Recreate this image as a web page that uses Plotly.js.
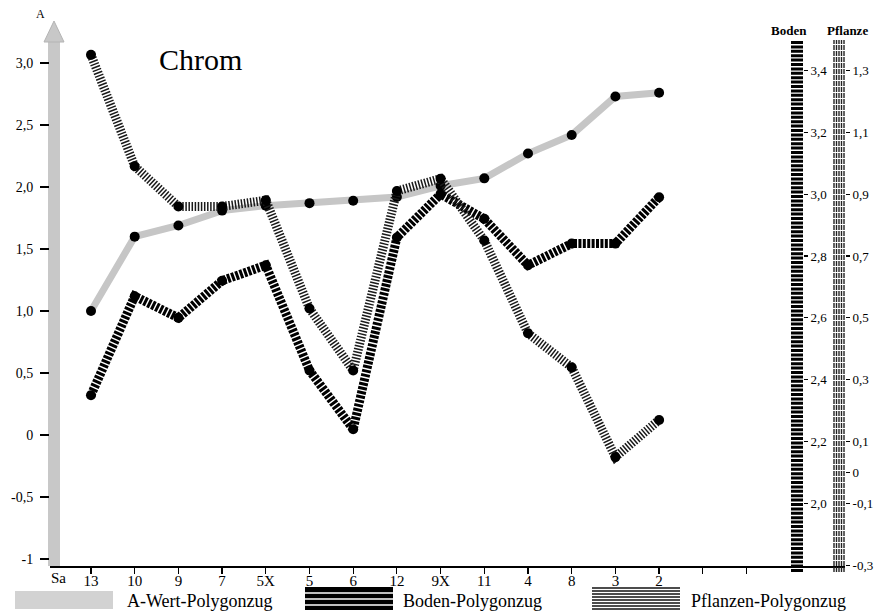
<!DOCTYPE html>
<html>
<head>
<meta charset="utf-8">
<script src="https://cdn.plot.ly/plotly-3.0.1.min.js"></script>
<style>
  html, body { margin: 0; padding: 0; background: #fff; }
  #chart { width: 889px; height: 616px; }
</style>
</head>
<body>
<div id="chart"></div>
<script>
// Sampling sites along the profile (Sa = start, no value)
const categories = ['13', '10', '9', '7', '5X', '5', '6', '12', '9X', '11', '4', '8', '3', '2'];
const xIndex = categories.map((_, i) => i + 1);

// A-Wert (left axis)
const aWert = [1.00, 1.60, 1.69, 1.81, 1.85, 1.87, 1.89, 1.92, 2.01, 2.07, 2.27, 2.42, 2.73, 2.76];
// Boden (first right axis)
const boden = [2.35, 2.67, 2.60, 2.72, 2.77, 2.43, 2.24, 2.86, 3.00, 2.92, 2.77, 2.84, 2.84, 2.99];
// Pflanze (second right axis)
const pflanze = [1.35, 0.99, 0.86, 0.86, 0.88, 0.53, 0.33, 0.91, 0.95, 0.75, 0.45, 0.34, 0.05, 0.17];

const aTicks = [-1, -0.5, 0, 0.5, 1.0, 1.5, 2.0, 2.5, 3.0];
const aTickText = ['-1', '-0,5', '0', '0,5', '1,0', '1,5', '2,0', '2,5', '3,0'];
const bodenTicks = [2.0, 2.2, 2.4, 2.6, 2.8, 3.0, 3.2, 3.4];
const bodenTickText = ['2,0', '2,2', '2,4', '2,6', '2,8', '3,0', '3,2', '3,4'];
const pflanzeTicks = [-0.3, -0.1, 0, 0.1, 0.3, 0.5, 0.7, 0.9, 1.1, 1.3];
const pflanzeTickText = ['-0,3', '-0,1', '0', '0,1', '0,3', '0,5', '0,7', '0,9', '1,1', '1,3'];

const SERIF = 'Liberation Serif, Times New Roman, serif';

// plot-area geometry helpers (paper units)
const W = 889, H = 616;
const M = { l: 50, r: 44, t: 20, b: 50 };
const PW = W - M.l - M.r, PH = H - M.t - M.b;
const px = x => (x - M.l) / PW;
const py = y => (H - M.b - y) / PH;

const dot = { color: '#000', size: 10 };

const traces = [
  {
    x: xIndex, y: aWert, name: 'A-Wert-Polygonzug', yaxis: 'y',
    mode: 'lines+markers',
    line: { color: '#c6c6c6', width: 7 },
    marker: dot
  },
  {
    x: xIndex, y: pflanze, name: 'Pflanzen-Polygonzug', yaxis: 'y3',
    mode: 'lines+markers',
    line: { color: '#1a1a1a', width: 9, dash: '1.5px,1.6px' },
    marker: dot
  },
  {
    x: xIndex, y: boden, name: 'Boden-Polygonzug', yaxis: 'y2',
    mode: 'lines+markers',
    line: { color: '#000', width: 9, dash: '3px,1.4px' },
    marker: dot
  }
];

const shapes = [];
// A axis: grey arrow
shapes.push({
  type: 'line', xref: 'paper', yref: 'paper',
  x0: px(54), x1: px(54), y0: py(566), y1: py(40),
  line: { color: '#c8c8c8', width: 12 }, layer: 'below'
});
shapes.push({
  type: 'path', xref: 'paper', yref: 'paper',
  path: `M ${px(44)} ${py(42)} L ${px(54)} ${py(21)} L ${px(64)} ${py(42)} Z`,
  fillcolor: '#c8c8c8', line: { color: '#b4b4b4', width: 1 }, layer: 'below'
});
// Boden axis bar
shapes.push({
  type: 'line', xref: 'paper', yref: 'paper',
  x0: px(797), x1: px(797), y0: py(572), y1: py(40),
  line: { color: '#000', width: 12, dash: '3px,1.4px' }
});
// Pflanze axis bar (vertical hatching)
[-5, -2.5, 0, 2.5, 5].forEach(d => {
  shapes.push({
    type: 'line', xref: 'paper', yref: 'paper',
    x0: px(839 + d), x1: px(839 + d), y0: py(572), y1: py(40),
    line: { color: '#222', width: 1.4, dash: '5px,1px' }
  });
});

// Legend swatches
shapes.push({
  type: 'rect', xref: 'paper', yref: 'paper',
  x0: px(15), x1: px(113), y0: py(609), y1: py(591),
  fillcolor: '#d2d2d2', line: { width: 0 }
});
shapes.push({
  type: 'rect', xref: 'paper', yref: 'paper',
  x0: px(305), x1: px(393), y0: py(610), y1: py(587),
  fillcolor: '#000', line: { width: 0 }
});
[593, 599, 605].forEach(y => {
  shapes.push({
    type: 'line', xref: 'paper', yref: 'paper',
    x0: px(305), x1: px(393), y0: py(y), y1: py(y),
    line: { color: '#fff', width: 1.3 }
  });
});
for (let y = 588; y <= 609; y += 3) {
  shapes.push({
    type: 'line', xref: 'paper', yref: 'paper',
    x0: px(592), x1: px(680), y0: py(y), y1: py(y),
    line: { color: '#111', width: 1.5 }
  });
}

function label(text, x, y, size, xanchor) {
  return {
    text: text, x: px(x), y: py(y), xref: 'paper', yref: 'paper',
    xanchor: xanchor || 'center', yanchor: 'middle', showarrow: false,
    font: { family: SERIF, size: size, color: '#000' }
  };
}

const annotations = [
  label('Chrom', 200, 60, 30),
  label('A', 40, 14, 12),
  label('<b>Boden</b>', 789, 30, 13),
  label('<b>Pflanze</b>', 847, 30, 13),
  label('A-Wert-Polygonzug', 125, 601, 18, 'left'),
  label('Boden-Polygonzug', 401, 601, 18, 'left'),
  label('Pflanzen-Polygonzug', 689, 601, 18, 'left'),
  { text: 'Sa', x: 0.25, y: 0, xref: 'x', yref: 'paper', xanchor: 'center', yanchor: 'top',
    yshift: -2, showarrow: false, font: { family: SERIF, size: 15, color: '#000' } }
];

const tickFont = { family: SERIF, size: 13, color: '#000' };

const layout = {
  width: W, height: H,
  margin: M,
  paper_bgcolor: '#fff', plot_bgcolor: '#fff',
  showlegend: false,
  xaxis: {
    range: [0.062, 18.254],
    tickmode: 'array',
    tickvals: [...xIndex, 15, 16],
    ticktext: [...categories, '', ''],
    ticks: '',
    minor: {
      tickmode: 'array', tickvals: [...xIndex, 15, 16],
      ticks: 'outside', ticklen: 6, tickwidth: 1.2, tickcolor: '#000', showgrid: false
    },
    showline: true, linecolor: '#000', linewidth: 1.5,
    showgrid: false, zeroline: false,
    tickfont: { family: SERIF, size: 15, color: '#000' }
  },
  yaxis: {
    range: [-1.056, 3.347],
    tickvals: aTicks, ticktext: aTickText,
    ticks: 'outside', ticklen: 9, tickwidth: 1.2, tickcolor: '#000',
    showline: false, showgrid: false, zeroline: false,
    tickfont: { family: SERIF, size: 14, color: '#000' }, ticklabelstandoff: 4
  },
  yaxis2: {
    overlaying: 'y', anchor: 'free', position: px(803), side: 'right',
    range: [1.798, 3.5627],
    tickvals: bodenTicks, ticktext: bodenTickText,
    ticks: 'outside', ticklen: 4, tickwidth: 1.2, tickcolor: '#000',
    showline: false, showgrid: false, zeroline: false,
    tickfont: tickFont
  },
  yaxis3: {
    overlaying: 'y', anchor: 'x', side: 'right',
    range: [-0.302, 1.4627],
    tickvals: pflanzeTicks, ticktext: pflanzeTickText,
    ticks: 'outside', ticklen: 4, tickwidth: 1.2, tickcolor: '#000',
    showline: false, showgrid: false, zeroline: false,
    tickfont: tickFont
  },
  shapes: shapes,
  annotations: annotations
};

Plotly.newPlot('chart', traces, layout, { staticPlot: true, displayModeBar: false });
</script>
</body>
</html>
